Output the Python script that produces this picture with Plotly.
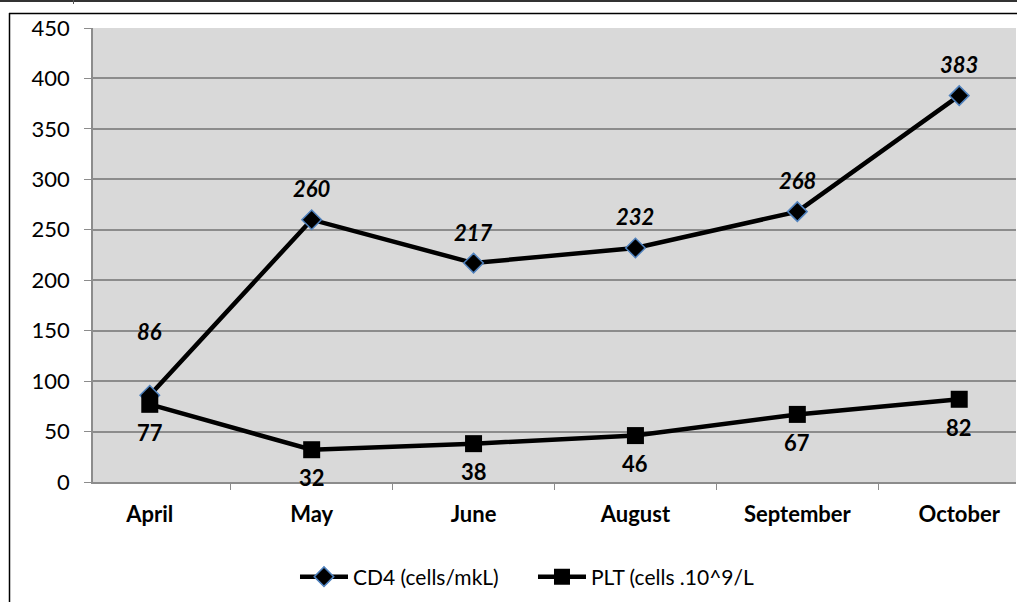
import plotly.graph_objects as go

months = ["April", "May", "June", "August", "September", "October"]
cd4 = [86, 260, 217, 232, 268, 383]
plt_vals = [77, 32, 38, 46, 67, 82]
y_ticks = [0, 50, 100, 150, 200, 250, 300, 350, 400, 450]

FONT = "Lato, 'Open Sans', sans-serif"

fig = go.Figure()
fig.add_trace(go.Scatter(
    x=months, y=cd4, name="CD4 (cells/mkL)", mode="lines+markers",
    line=dict(color="black", width=4.5),
    marker=dict(symbol="diamond", size=15, color="black",
                line=dict(color="#4F81BD", width=1.5)),
))
fig.add_trace(go.Scatter(
    x=months, y=plt_vals, name="PLT (cells .10^9/L", mode="lines+markers",
    line=dict(color="black", width=4.5),
    marker=dict(symbol="square", size=17, color="black"),
))

annotations = []
for i, (m, v) in enumerate(zip(months, cd4)):
    annotations.append(dict(
        x=m, y=v, text=f"<b><i>{v}</i></b>", showarrow=False,
        yshift=64 if i == 0 else 31,
        font=dict(family=FONT, size=22, color="black"),
    ))
for m, v in zip(months, plt_vals):
    annotations.append(dict(
        x=m, y=v, text=f"<b>{v}</b>", showarrow=False, yshift=-28,
        font=dict(family=FONT, size=22, color="black"),
    ))

# pixel -> paper helpers for decorative frame
L, R, T, B = 93, 1016, 28, 482
def px(x):
    return (x - L) / (R - L)
def py(y):
    return (B - y) / (B - T)

shapes = [
    # chart outer border (left and top)
    dict(type="line", xref="paper", yref="paper", x0=px(9.5), x1=px(9.5), y0=py(13), y1=py(610),
         line=dict(color="black", width=1.5)),
    dict(type="line", xref="paper", yref="paper", x0=px(9), x1=px(1030), y0=py(13.5), y1=py(13.5),
         line=dict(color="black", width=1.5)),
    # top page line
    dict(type="line", xref="paper", yref="paper", x0=px(-10), x1=px(1030), y0=py(1), y1=py(1),
         line=dict(color="#333333", width=2)),
    dict(type="line", xref="paper", yref="paper", x0=px(73.5), x1=px(73.5), y0=py(0), y1=py(4),
         line=dict(color="#555555", width=1)),
]

fig.update_layout(
    width=1017, height=602,
    margin=dict(l=L, r=1017 - R, t=T, b=602 - B),
    paper_bgcolor="white",
    plot_bgcolor="#D9D9D9",
    font=dict(family=FONT, size=21, color="black"),
    showlegend=True,
    legend=dict(orientation="h", x=0.4767, xanchor="center", y=py(577), yanchor="middle",
                font=dict(family=FONT, size=21, color="black"),
                itemwidth=48, tracegroupgap=0, bgcolor="rgba(0,0,0,0)",
                entrywidth=175, entrywidthmode="pixels"),
    annotations=annotations,
    shapes=shapes,
)
fig.update_xaxes(
    type="category", categoryorder="array", categoryarray=months,
    tickson="boundaries", ticks="outside", ticklen=6, tickcolor="#8C8C8C",
    showline=True, linecolor="#8C8C8C", linewidth=1.5,
    showgrid=False, ticklabelstandoff=12,
    tickfont=dict(family=FONT, size=22, color="black", weight="bold"),
)
fig.update_yaxes(
    range=[0, 450], tickvals=y_ticks, ticks="outside", ticklen=7, tickcolor="#8C8C8C",
    showline=True, linecolor="#8C8C8C", linewidth=1.5,
    showgrid=True, gridcolor="#8C8C8C", gridwidth=1.5, zeroline=False,
    ticklabelstandoff=10,
    tickfont=dict(family=FONT, size=22, color="black"),
)

fig.write_html("out.html")
